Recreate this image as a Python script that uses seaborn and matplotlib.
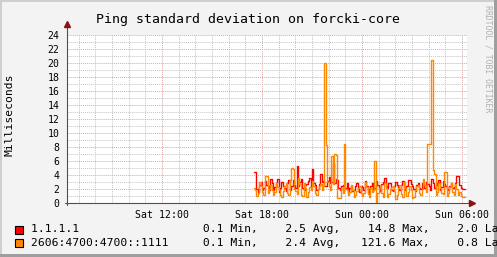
import numpy as np
import pandas as pd
import matplotlib
matplotlib.use("Agg")
import matplotlib.pyplot as plt
import seaborn as sns
from matplotlib.ticker import MultipleLocator, FixedLocator
from matplotlib.patches import Rectangle
from matplotlib.lines import Line2D

# ---------------- data ----------------
title = "Ping standard deviation on forcki-core"
y_label = "Milliseconds"
series_names = ["1.1.1.1", "2606:4700:4700::1111"]
series_colors = ["#ff0000", "#ff8800"]

start_hour = 17.5          # Sat 17:30 (hours since Sat 00:00)
step_hours = 1 / 12        # 5-minute steps

v4_values = [4.4, 4.4, 2.0, 1.6, 2.6, 3.0, 1.8, 2.2, 3.2, 2.6, 2.4, 1.9, 3.5, 2.8, 1.9, 2.3,
             2.8, 3.4, 1.6, 2.1, 3.0, 2.5, 2.2, 1.7, 2.9, 3.3, 1.8, 2.4, 3.3, 2.6, 2.1, 5.3,
             2.5, 3.0, 3.4, 2.2, 1.9, 2.6, 2.7, 3.1, 3.6, 2.3, 4.9, 2.9, 2.6, 1.8, 2.0, 2.7,
             4.1, 3.0, 3.2, 2.4, 2.4, 3.1, 3.7, 2.8, 3.0, 5.7, 2.8, 3.5, 3.3, 2.1, 1.8, 2.5,
             2.6, 2.0, 2.2, 2.9, 1.5, 2.1, 2.4, 1.7, 1.9, 2.5, 2.8, 2.0, 1.6, 2.4, 2.3, 1.8,
             3.1, 2.5, 1.4, 2.0, 2.5, 2.9, 1.9, 2.2, 3.2, 2.6, 2.0, 1.7, 2.7, 3.0, 3.6, 2.4,
             2.1, 2.8, 2.9, 1.9, 1.7, 2.4, 3.0, 2.6, 2.2, 1.8, 2.6, 3.1, 1.8, 2.2, 2.4, 3.3,
             3.3, 2.7, 2.5, 2.0, 1.7, 2.6, 2.8, 2.2, 2.0, 2.9, 2.6, 2.1, 3.0, 2.7, 2.4, 1.9,
             3.4, 2.9, 2.2, 2.6, 2.9, 3.3, 1.8, 2.3, 3.2, 2.7, 2.5, 2.0, 1.9, 2.4, 2.8, 2.2,
             2.3, 2.9, 3.9, 3.9, 2.6, 2.2, 2.0, 2.0]
v6_values = [2.2, 1.8, 1.0, 1.4, 3.0, 2.5, 1.6, 1.1, 3.9, 3.9, 1.4, 2.0, 2.6, 1.8, 1.1, 1.6,
             2.9, 2.3, 1.8, 1.2, 0.9, 1.7, 2.4, 2.9, 1.5, 1.2, 3.3, 5.0, 4.8, 2.0, 1.7, 1.3,
             3.6, 2.7, 1.2, 1.0, 2.8, 2.2, 0.9, 1.6, 2.3, 1.8, 3.1, 2.5, 1.4, 1.1, 2.0, 2.4,
             2.7, 1.9, 2.5, 20.0, 8.3, 3.0, 2.5, 1.9, 6.7, 2.7, 7.0, 6.9, 0.7, 0.7, 0.7, 2.2,
             1.5, 8.5, 2.0, 1.9, 1.2, 1.6, 2.6, 1.9, 0.8, 1.1, 1.7, 2.2, 2.4, 1.5, 1.0, 1.4,
             3.0, 2.3, 1.3, 0.9, 2.1, 1.6, 1.9, 6.0, 0.2, 1.5, 2.1, 2.6, 1.4, 0.9, 2.8, 2.2,
             0.9, 1.3, 1.9, 2.3, 2.5, 1.7, 0.6, 1.1, 2.2, 2.6, 1.3, 0.8, 3.0, 2.1, 1.0, 1.6,
             2.4, 1.8, 0.7, 0.9, 1.8, 2.4, 2.6, 1.5, 1.1, 2.0, 3.4, 2.6, 1.6, 8.4, 8.4, 8.4,
             20.4, 4.7, 4.2, 1.2, 1.6, 2.8, 2.1, 1.5, 1.3, 4.5, 4.5, 1.0, 1.4, 2.3, 2.9, 1.6,
             1.1, 2.7, 2.0, 1.2, 1.6, 1.0, 0.8, 0.8]

x_tick_hours = [12, 18, 24, 30]
x_tick_labels = ["Sat 12:00", "Sat 18:00", "Sun 00:00", "Sun 06:00"]
x_range = (6.3, 30.3)
y_range = (0, 24)

legend_rows = [
    "1.1.1.1".ljust(23) + "  0.1 Min,  " + "  2.5 Avg,   " + " 14.8 Max,  " + "  2.0 Last",
    "2606:4700:4700::1111".ljust(23) + "  0.1 Min,  " + "  2.4 Avg,   " + "121.6 Max,  " + "  0.8 Last",
]

# ---------------- frame ----------------
frames = []
for name, vals in zip(series_names, [v4_values, v6_values]):
    vals_ext = list(vals) + [vals[-1]]
    t = start_hour + np.arange(len(vals_ext)) * step_hours
    frames.append(pd.DataFrame({"t": t, "v": vals_ext, "series": name}))
df = pd.concat(frames, ignore_index=True)

sns.set_style("white")
plt.rcParams["font.family"] = ["DejaVu Sans Mono"]

W, H = 497, 257
BG = "#f3f3f3"
fig = plt.figure(figsize=(W / 100, H / 100), dpi=100, facecolor=BG)
L, R, T, B = 67, 467, 35, 203
ax = fig.add_axes([L / W, 1 - B / H, (R - L) / W, (B - T) / H])
ax.set_facecolor("white")

sns.lineplot(data=df, x="t", y="v", hue="series", hue_order=series_names,
             palette=series_colors, drawstyle="steps-post", linewidth=1.0,
             estimator=None, sort=False, legend=False, ax=ax, zorder=3)

ax.set_xlim(*x_range)
ax.set_ylim(*y_range)
ax.set_xlabel("")
ax.set_ylabel("")

ax.xaxis.set_major_locator(FixedLocator(x_tick_hours))
ax.set_xticklabels(x_tick_labels)
ax.xaxis.set_minor_locator(MultipleLocator(1))
ax.yaxis.set_major_locator(MultipleLocator(2))
ax.yaxis.set_minor_locator(MultipleLocator(1))

ax.set_axisbelow(True)
ax.grid(which="minor", color="#c4c4c4", linestyle=(0, (1, 1)), linewidth=0.7)
ax.grid(which="major", color="#e2a4a4", linestyle=(0, (1, 1)), linewidth=0.7)

for s in ax.spines.values():
    s.set_visible(False)

ax.tick_params(axis="x", which="major", length=2.5, width=0.7, color="#d04040",
               direction="out", pad=2.5, labelsize=7.1, labelcolor="black")
ax.tick_params(axis="x", which="minor", length=1.8, width=0.7, color="#a0a0a0",
               direction="out")
ax.tick_params(axis="y", which="major", length=2, width=0.7, color="#707070",
               direction="out", pad=3.5, labelsize=7.1, labelcolor="black")
ax.tick_params(axis="y", which="minor", length=1.5, width=0.7, color="#a0a0a0",
               direction="out")

# axis lines with arrows
axis_col = "#505050"
ax.add_line(Line2D([-0.005, 1.01], [0, 0], transform=ax.transAxes, color=axis_col,
                   linewidth=0.8, clip_on=False, zorder=5))
ax.add_line(Line2D([0, 0], [-0.012, 1.06], transform=ax.transAxes, color=axis_col,
                   linewidth=0.8, clip_on=False, zorder=5))
ax.plot([1.0125], [0], marker=">", markersize=4.5, color="#8b1010",
        transform=ax.transAxes, clip_on=False, zorder=6)
ax.plot([0], [1.068], marker="^", markersize=4.5, color="#8b1010",
        transform=ax.transAxes, clip_on=False, zorder=6)

# texts
fig.text(248 / W, 1 - 19 / H, title, ha="center", va="center", fontsize=9.5, color="black")
fig.text(10 / W, 1 - 115 / H, y_label, rotation=90, ha="center", va="center",
         fontsize=8.2, color="black")
fig.text(488 / W, 1 - 5 / H, "RRDTOOL / TOBI OETIKER", rotation=270, ha="center",
         va="top", fontsize=5.9, color="#b0b0b0")

# legend
row_y = [229.5, 243]
for yc, col, txt in zip(row_y, series_colors, legend_rows):
    fig.patches.append(Rectangle((15 / W, 1 - (yc + 4) / H), 8 / W, 8 / H,
                                 transform=fig.transFigure, facecolor=col,
                                 edgecolor="black", linewidth=0.8))
    fig.text(31 / W, 1 - yc / H, txt, ha="left", va="center", fontsize=8.2, color="black")

# 3D-ish border
fig.patches.append(Rectangle((0, 0), 2 / W, 1, transform=fig.transFigure,
                             facecolor="#cfcfcf", edgecolor="none"))
fig.patches.append(Rectangle((0, 1 - 2 / H), 1, 2 / H, transform=fig.transFigure,
                             facecolor="#cfcfcf", edgecolor="none"))
fig.patches.append(Rectangle((1 - 3 / W, 0), 3 / W, 1, transform=fig.transFigure,
                             facecolor="#9e9e9e", edgecolor="none"))
fig.patches.append(Rectangle((0, 0), 1, 3 / H, transform=fig.transFigure,
                             facecolor="#9e9e9e", edgecolor="none"))

fig.savefig("out.png", dpi=100, facecolor=BG)
